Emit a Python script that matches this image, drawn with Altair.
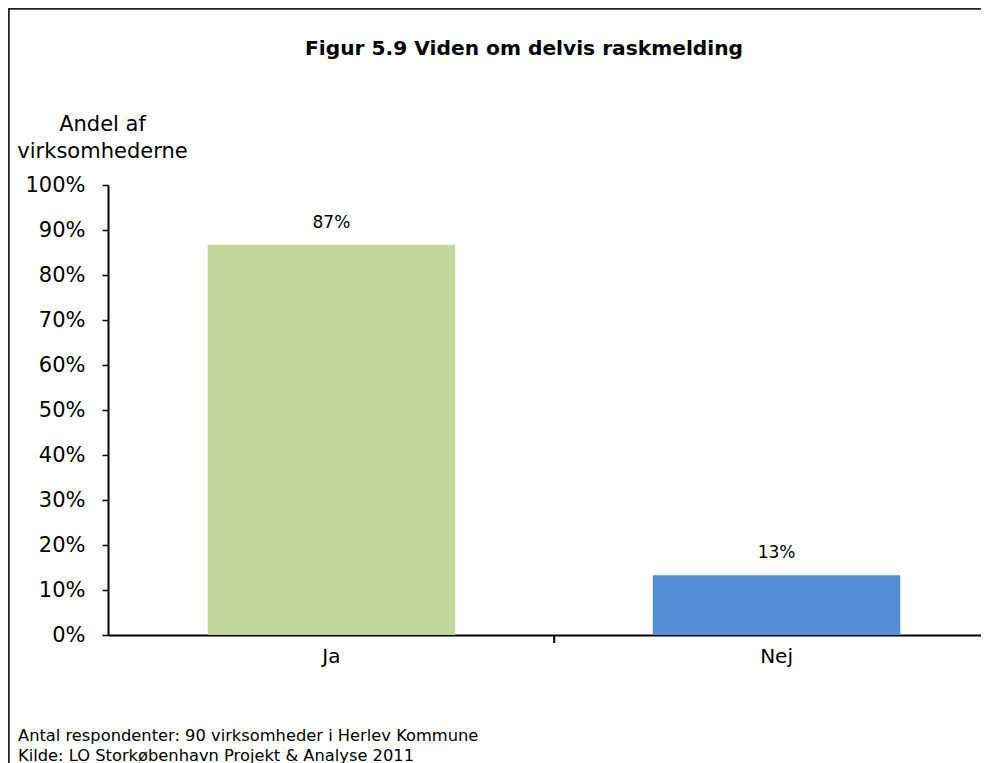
import altair as alt
import pandas as pd

# ---- data ----
categories = ["Ja", "Nej"]
shares = [0.867, 0.133]
bar_colors = ["#C3D69B", "#558ED5"]
y_tick_values = [0.0, 0.1, 0.2, 0.3, 0.4, 0.5, 0.6, 0.7, 0.8, 0.9, 1.0]
title_text = "Figur 5.9 Viden om delvis raskmelding"
y_title_lines = ["Andel af", "virksomhederne"]
footnotes = [
    "Antal respondenter: 90 virksomheder i Herlev Kommune",
    "Kilde: LO Storkøbenhavn Projekt & Analyse 2011",
]

FONT = "DejaVu Sans"

df = pd.DataFrame({"cat": categories, "share": shares, "color": bar_colors})
one = pd.DataFrame({"k": [0]})

x_enc = alt.X(
    "cat:N",
    sort=categories,
    scale=alt.Scale(range=[0, 892], paddingInner=0.444, paddingOuter=0.224),
    axis=alt.Axis(
        title=None, labelAngle=0, labelFontSize=20, labelColor="black",
        labelFont=FONT, ticks=False, tickSize=0, labelPadding=11,
        domainColor="black", domainWidth=2,
    ),
)
y_enc = alt.Y(
    "share:Q",
    scale=alt.Scale(domain=[0, 1], nice=False),
    axis=alt.Axis(
        values=y_tick_values, format=".0%", grid=False,
        title=y_title_lines, titleAngle=0, titleAlign="center",
        titleBaseline="alphabetic", titleX=-6, titleY=-55, titleLineHeight=27,
        titleFontSize=21, titleFontWeight="normal", titleFont=FONT, titleColor="black",
        labelFontSize=21, labelColor="black", labelFont=FONT, labelPadding=17,
        tickSize=6, tickColor="black", tickWidth=1.5,
        domainColor="black", domainWidth=2,
    ),
)

bars = alt.Chart(df).mark_bar().encode(
    x=x_enc, y=y_enc, color=alt.Color("color:N", scale=None)
)

labels = alt.Chart(df).mark_text(
    dy=-17, baseline="alphabetic", fontSize=17, font=FONT, color="black"
).encode(x=alt.X("cat:N", sort=categories), y="share:Q",
         text=alt.Text("share:Q", format=".0%"))

# category-boundary ticks: end of each band plus half the inner gap
xticks = alt.Chart(df).mark_rule(color="black", strokeWidth=2, xOffset=99).encode(
    x=alt.X("cat:N", sort=categories, bandPosition=1),
    y=alt.value(450), y2=alt.value(458),
)

# outer frame of the figure (only its left and top edges fall inside the picture)
frame_left = alt.Chart(one).mark_rule(color="#222222", strokeWidth=2.5).encode(
    x=alt.value(-99.5), y=alt.value(-177), y2=alt.value(700)
)
frame_top = alt.Chart(one).mark_rule(color="#222222", strokeWidth=2.5).encode(
    x=alt.value(-101), x2=alt.value(1000), y=alt.value(-176.5)
)

title = alt.Chart(one).mark_text(
    text=title_text, fontSize=20.2, fontWeight="bold", font=FONT, color="black",
    align="center", baseline="alphabetic",
).encode(x=alt.value(416), y=alt.value(-130))

notes = alt.Chart(one).mark_text(
    text=footnotes, fontSize=16.3, font=FONT, color="black",
    align="left", baseline="alphabetic", lineHeight=20,
).encode(x=alt.value(-90), y=alt.value(556))

chart = alt.layer(frame_left, frame_top, bars, labels, xticks, title, notes).properties(
    width=873, height=450,
    autosize=alt.AutoSizeParams(type="none"),
    padding={"left": 100, "top": 177, "right": 0, "bottom": 128},
).configure_view(stroke=None)

chart.save("out.html", embed_options={"renderer": "svg", "actions": False})
